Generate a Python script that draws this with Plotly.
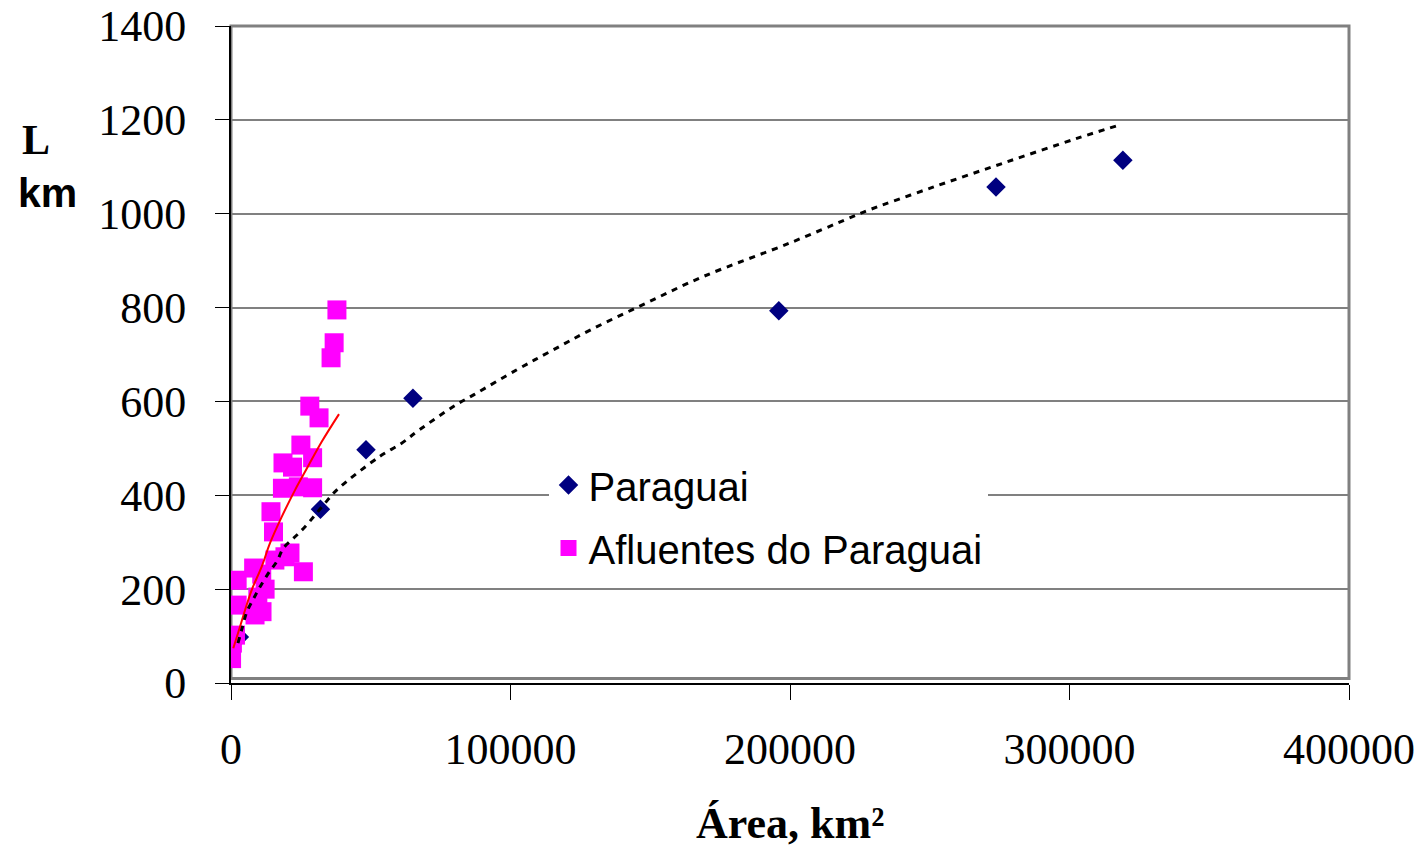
import plotly.graph_objects as go

# ---- data ----
paraguai_area = [3000, 32000, 48300, 65100, 196000, 273700, 319100]
paraguai_L = [98, 370, 497, 607, 793, 1057, 1114]

afl_area = [37900, 36900, 35800, 28200, 31500, 25000, 29200, 18600, 22000,
            18400, 24100, 29200, 14300, 15200, 21100, 25900, 19300, 15700,
            8100, 11000, 2200, 12200, 9600, 2200, 11100, 8600, 1600, 500, 200]
afl_L = [795, 725, 693, 590, 565, 507, 480, 469, 460,
         415, 418, 416, 365, 322, 277, 237, 269, 262,
         245, 232, 219, 200, 183, 166, 152, 145, 102, 85, 52]

# trend lines
trend_par_x = [2500, 3940, 5700, 8100, 10400, 13400, 16500, 18700, 22300, 26500,
               33600, 37800, 53000, 60800, 67300, 80300, 86800, 102400, 114100,
               128500, 148000, 168900, 200100, 220900, 227400, 250900, 276900,
               302900, 316800]
trend_par_y = [85, 116, 152, 180, 205, 234, 260, 287, 308, 333,
               383, 411, 482, 510, 539, 592, 614, 668, 706,
               752, 808, 866, 938, 990, 1006, 1056, 1109,
               1161, 1187]

trend_afl_x = [820, 3220, 5010, 7400, 10980, 13950, 18140, 22900, 26480, 32450, 38640]
trend_afl_y = [74, 120, 155, 198, 248, 298, 354, 411, 450, 514, 573]

x_ticks = [0, 100000, 200000, 300000, 400000]
x_tick_text = ["0", "100000", "200000", "300000", "400000"]
y_ticks = [0, 200, 400, 600, 800, 1000, 1200, 1400]
y_tick_text = ["0", "200", "400", "600", "800", "1000", "1200", "1400"]

SERIF = "Liberation Serif"
SANS = "Liberation Sans"

fig = go.Figure()
fig.add_trace(go.Scatter(
    x=paraguai_area, y=paraguai_L, mode="markers", name="Paraguai",
    legendgroup="a",
    marker=dict(symbol="diamond", size=15, color="#000080"),
))
fig.add_trace(go.Scatter(
    x=afl_area, y=afl_L, mode="markers", name="Afluentes do Paraguai",
    legendgroup="b",
    marker=dict(symbol="square", size=19, color="#FF00FF"),
))
fig.add_trace(go.Scatter(
    x=trend_afl_x, y=trend_afl_y, mode="lines", showlegend=False,
    line=dict(color="#FF0000", width=2, shape="spline"),
))
fig.add_trace(go.Scatter(
    x=trend_par_x, y=trend_par_y, mode="lines", showlegend=False,
    line=dict(color="#000000", width=3, dash="6px,6px", shape="spline"),
))

fig.update_layout(
    width=1426, height=851,
    margin=dict(l=231, r=77, t=26, b=168),
    paper_bgcolor="white", plot_bgcolor="white",
    showlegend=True,
    legend=dict(
        x=0.284, y=0.351, xanchor="left", yanchor="top",
        bgcolor="white", borderwidth=0,
        font=dict(family=SANS, size=40, color="black"),
        traceorder="grouped", tracegroupgap=8,
        itemsizing="trace",
    ),
    xaxis=dict(
        range=[0, 400000], tickvals=x_ticks, ticktext=x_tick_text,
        showgrid=False, zeroline=False, automargin=False,
        ticklabeloverflow="allow",
        showline=True, linecolor="black", linewidth=2,
        ticks="outside", ticklen=15, tickcolor="black", tickwidth=1,
        tickfont=dict(family=SERIF, size=44, color="black"),
        ticklabelstandoff=11,
    ),
    yaxis=dict(
        range=[0, 1400], tickvals=y_ticks, ticktext=y_tick_text,
        showgrid=True, gridcolor="#808080", gridwidth=2,
        zeroline=False, automargin=False,
        ticklabeloverflow="allow",
        showline=True, linecolor="black", linewidth=2,
        ticks="outside", ticklen=14, tickcolor="black", tickwidth=1,
        tickfont=dict(family=SERIF, size=44, color="black"),
        ticklabelstandoff=20,
    ),
    shapes=[dict(
        type="rect", xref="paper", yref="paper", x0=0, x1=1, y0=0.007, y1=1,
        line=dict(color="#808080", width=3), layer="below",
    )],
    annotations=[
        dict(text="<b>Área, km²</b>", xref="paper", yref="paper",
             x=0.5, y=-0.2146, xanchor="center", yanchor="middle",
             showarrow=False, font=dict(family=SERIF, size=44, color="black")),
        dict(text="<b>L</b>", xref="paper", yref="paper",
             x=-0.189, y=0.826, xanchor="left", yanchor="middle",
             showarrow=False, font=dict(family=SERIF, size=42, color="black")),
        dict(text="<b>km</b>", xref="paper", yref="paper",
             x=-0.192, y=0.746, xanchor="left", yanchor="middle",
             showarrow=False, font=dict(family=SANS, size=41, color="black")),
    ],
)

fig.write_html(
    "out.html",
    config={"displayModeBar": False},
    post_script="document.body.style.margin='0';document.body.style.overflow='hidden';",
)
